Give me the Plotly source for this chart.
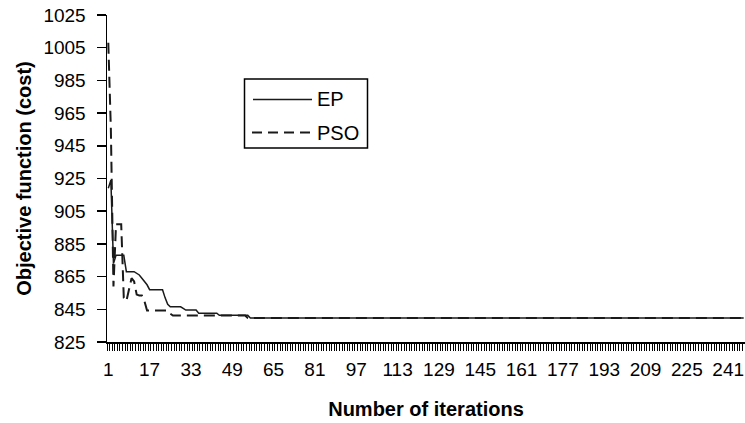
import plotly.graph_objects as go

# ---- data (iteration at each change point, cost value) ----
ep_iter = [1, 2, 3, 4, 7, 8, 11, 12, 13, 14, 15, 16, 17, 22, 23, 24, 25, 29,
           30, 31, 35, 36, 43, 44, 55, 56, 247]
ep_cost = [919, 924, 873, 878, 878, 868, 868, 867, 866, 864, 862, 860, 857, 857,
           852, 848, 846.5, 846.5, 845.5, 844.5, 844.5, 842.6, 842.6, 841.3,
           841.3, 839.7, 839.7]

pso_iter = [1, 2, 3, 4, 6, 7, 8, 9, 10, 11, 12, 13, 14, 15, 16, 24, 25, 26,
            54, 55, 247]
pso_cost = [1008, 955, 859, 897, 897, 852, 850, 857, 864, 862, 854, 853.5,
            853.5, 850, 844.3, 844.3, 842.3, 841.2, 841.2, 839.7, 839.7]

series_names = ["EP", "PSO"]
n_iter = 247
x_tick0, x_dtick = 1, 16
y_min, y_max, y_step = 825, 1025, 20
x_title = "Number of iterations"
y_title = "Objective function (cost)"

# ---- layout geometry ----
W, H = 745, 423
L, R, T, B = 107, 0, 15, 81
FONT = "Liberation Sans, Arial, sans-serif"
INK = "#1a1a1a"

pw, ph = W - L - R, H - T - B


def px_x(px):
    return (px - L) / pw


def px_y(py):
    return (H - B - py) / ph


fig = go.Figure()
fig.add_trace(go.Scatter(x=ep_iter, y=ep_cost, mode="lines", name=series_names[0],
                         line=dict(color=INK, width=1.5), showlegend=False))
fig.add_trace(go.Scatter(x=pso_iter, y=pso_cost, mode="lines", name=series_names[1],
                         line=dict(color=INK, width=2, dash="11px,6px"),
                         showlegend=False))

# manual legend (box, line samples, labels)
shapes = [
    dict(type="rect", xref="paper", yref="paper",
         x0=px_x(244.5), x1=px_x(367.5), y0=px_y(148), y1=px_y(79),
         line=dict(color="black", width=1.5), fillcolor="white", layer="above"),
    dict(type="line", xref="paper", yref="paper",
         x0=px_x(253), x1=px_x(312), y0=px_y(99.5), y1=px_y(99.5),
         line=dict(color=INK, width=1.5), layer="above"),
    dict(type="line", xref="paper", yref="paper",
         x0=px_x(252), x1=px_x(312), y0=px_y(132.5), y1=px_y(132.5),
         line=dict(color=INK, width=2, dash="10px,6px"), layer="above"),
]
annotations = [
    dict(xref="paper", yref="paper", x=px_x(315), y=px_y(99.5), text=series_names[0],
         showarrow=False, xanchor="left", yanchor="middle",
         font=dict(family=FONT, size=20, color="black")),
    dict(xref="paper", yref="paper", x=px_x(315), y=px_y(132.5), text=series_names[1],
         showarrow=False, xanchor="left", yanchor="middle",
         font=dict(family=FONT, size=20, color="black")),
]

fig.update_layout(
    width=W, height=H,
    margin=dict(l=L, r=R, t=T, b=B, pad=0, autoexpand=False),
    paper_bgcolor="white", plot_bgcolor="white",
    font=dict(family=FONT, color="black"),
    shapes=shapes, annotations=annotations,
    xaxis=dict(
        automargin=False,
        range=[0.5, n_iter + 0.5], tickmode="linear", tick0=x_tick0, dtick=x_dtick,
        ticks="", showline=True, linecolor="black", linewidth=1.5,
        showgrid=False, zeroline=False,
        tickfont=dict(family=FONT, size=19, color="black"),
        ticklabelstandoff=10,
        minor=dict(ticks="outside", tick0=0.5, dtick=1, ticklen=7, tickwidth=1,
                   tickcolor="black", showgrid=False),
        title=dict(text="<b>" + x_title + "</b>", standoff=22,
                   font=dict(family=FONT, size=20, color="black")),
    ),
    yaxis=dict(
        automargin=False,
        range=[y_min, y_max], tickmode="linear", tick0=y_min, dtick=y_step,
        ticks="outside", ticklen=9, tickwidth=1.5, tickcolor="black",
        showline=True, linecolor="black", linewidth=1.5,
        showgrid=False, zeroline=False,
        tickfont=dict(family=FONT, size=19, color="black"),
        ticklabelstandoff=7,
        title=dict(text="<b>" + y_title + "</b>", standoff=6,
                   font=dict(family=FONT, size=20, color="black")),
    ),
)

fig.write_html(
    "out.html",
    config={"displayModeBar": False, "staticPlot": True},
    post_script="document.body.style.margin='0px';"
                "document.documentElement.style.overflow='hidden';",
)
